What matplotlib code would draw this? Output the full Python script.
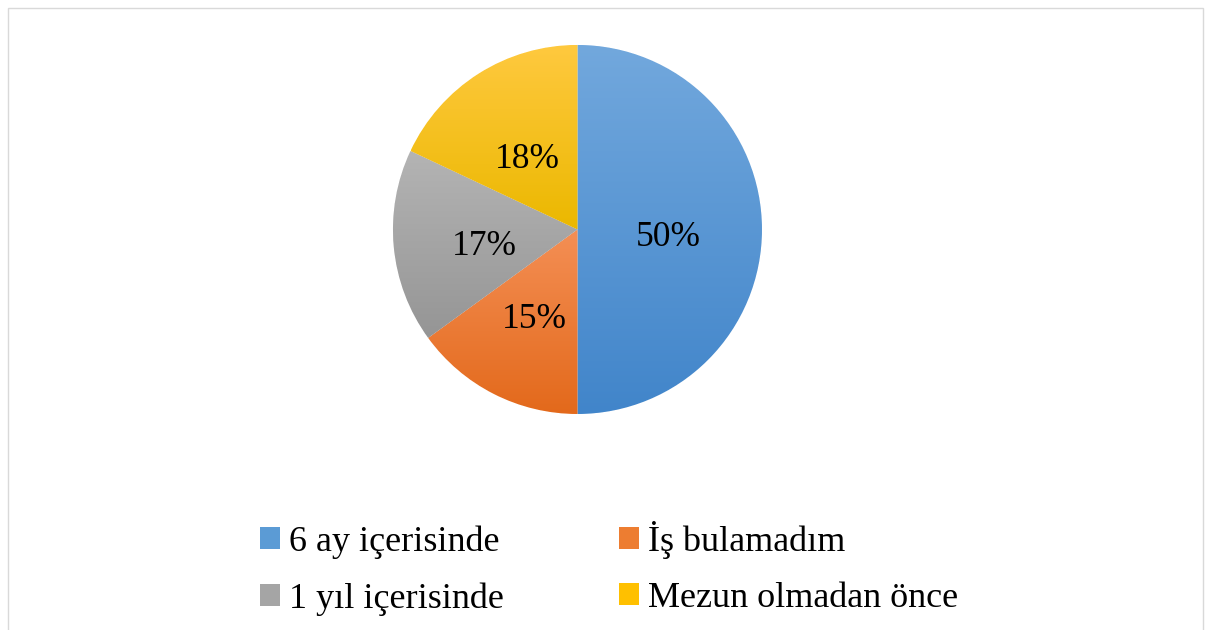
import numpy as np
import matplotlib.pyplot as plt
from matplotlib.patches import Rectangle, Patch
from matplotlib.colors import LinearSegmentedColormap
from matplotlib.transforms import offset_copy

plt.rcParams['font.family'] = ['Liberation Serif', 'DejaVu Serif']

labels = ['6 ay içerisinde', 'İş bulamadım', '1 yıl içerisinde', 'Mezun olmadan önce']
values = [50, 15, 17, 18]
top_colors = ['#72a8dd', '#f48f55', '#b4b4b4', '#ffc93f']
bottom_colors = ['#4185ca', '#e3691b', '#959595', '#ebb800']
mid_colors = ['#5b9bd5', '#ed7d31', '#a5a5a5', '#ffc000']

fig = plt.figure(figsize=(12.11, 6.30), dpi=100)
ax = fig.add_axes([0.3245, 0.3429, 0.3047, 0.5857])

wedges, texts, autotexts = ax.pie(values, colors=mid_colors, startangle=90, counterclock=False,
                                  radius=1, autopct='%1.0f%%', pctdistance=0.5,
                                  wedgeprops=dict(linewidth=0.6, edgecolor='white'),
                                  textprops=dict(fontsize=25.5, color='black'))
ax.set_xlim(-1, 1)
ax.set_ylim(-1, 1)
ax.set_aspect('equal')
ax.axis('off')

# vertical gradient inside each slice
for w, c0, c1 in zip(wedges, top_colors, bottom_colors):
    ext = w.get_path().get_extents(w.get_patch_transform())
    cmap = LinearSegmentedColormap.from_list('g', [c1, c0])
    grad = np.linspace(0, 1, 256).reshape(-1, 1)
    im = ax.imshow(grad, cmap=cmap, origin='lower', aspect='auto',
                   extent=[ext.x0, ext.x1, ext.y0, ext.y1], zorder=1.5)
    im.set_clip_path(w)
for t in autotexts:
    t.set_zorder(3)
    t.set_transform(offset_copy(ax.transData, fig=fig, x=-1, y=-8, units='dots'))
ax.set_xlim(-1, 1)
ax.set_ylim(-1, 1)

# legend fills column by column, so reorder to read row by row
order = [0, 2, 1, 3]
handles = [Patch(facecolor=mid_colors[i], edgecolor='none') for i in order]
fig.legend(handles, [labels[i] for i in order], loc='center', bbox_to_anchor=(0.503, 0.098),
           ncol=2, frameon=False, fontsize=26, handlelength=0.55, handleheight=0.55,
           handletextpad=0.25, columnspacing=3.2, labelspacing=0.64)

fig.patches.append(Rectangle((8 / 1211, -0.01), 1195 / 1211, 1 - 8 / 630 + 0.01,
                             transform=fig.transFigure, fill=False,
                             edgecolor='#d9d9d9', linewidth=1))

fig.savefig('out.png', dpi=100, facecolor='white')
